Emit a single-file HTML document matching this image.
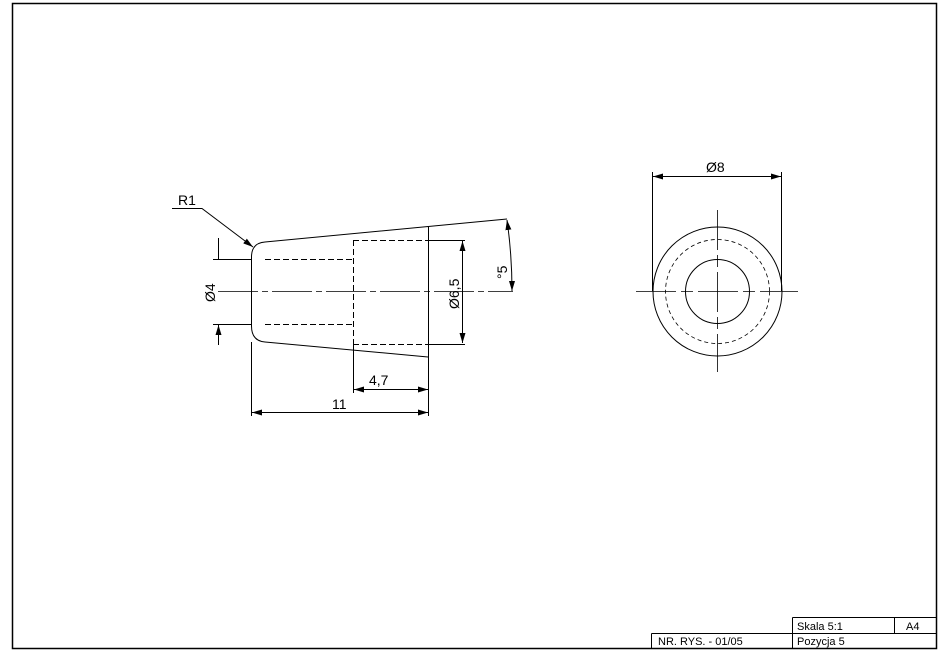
<!DOCTYPE html>
<html><head><style>body{margin:0;background:#fff}svg{display:block}text{font-family:"Liberation Sans",sans-serif;fill:#000}</style></head><body>
<svg width="948" height="659" viewBox="0 0 948 659" xmlns="http://www.w3.org/2000/svg">
<defs><marker id="a" viewBox="0 0 10 6" refX="10" refY="3" markerWidth="10" markerHeight="6" orient="auto-start-reverse" markerUnits="userSpaceOnUse"><path d="M0,0L10,3L0,6z" fill="#000"/></marker></defs>
<g fill="none" stroke="#000" stroke-width="1">
<rect x="12.5" y="3.5" width="924" height="645" stroke-width="1.5"/>
<path d="M792.5,617.5H936.5M792.5,617.5V648M894.5,617.5V633M651.5,633.5H936.5M651.5,633.5V648"/>
<path d="M251.5,257 Q251.5,243 265,242 L507,219 M251.5,257V326 Q251.5,341 265,342 L428,357 M428.5,227V357"/>
<path d="M265,259.5H353 M265,324.5H353 M353.5,240V344 M353,240.5H428 M353,344.5H428" stroke-dasharray="6,3"/>
<path d="M218,291.5H513" stroke-dasharray="40,4,6,4" stroke-width="0.8"/>
<path d="M213,259.5H251 M213,324.5H251"/>
<path d="M218.5,238V259 M218.5,345V325" marker-end="url(#a)"/>
<path d="M428,240.5H465 M428,344.5H465"/>
<path d="M462.5,241V343" marker-start="url(#a)" marker-end="url(#a)"/>
<path d="M353.5,344V393 M251.5,342V416 M428.5,357V416"/>
<path d="M354,389.5H428" marker-start="url(#a)" marker-end="url(#a)"/>
<path d="M252,412.5H428" marker-start="url(#a)" marker-end="url(#a)"/>
<path d="M172,208.5H202 L253,247" marker-end="url(#a)"/>
<path d="M507,220 Q512,255 512,291" marker-start="url(#a)" marker-end="url(#a)"/>
<circle cx="717.5" cy="291.5" r="64.5"/>
<circle cx="717.5" cy="291.5" r="52" stroke-dasharray="4,3" stroke-width="0.8"/>
<circle cx="717.5" cy="291.5" r="32"/>
<path d="M636,291.5H798 M717.5,210V372" stroke-dasharray="40,5,12,5" stroke-width="0.8"/>
<path d="M652.5,172V291 M781.5,172V291"/>
<path d="M653,176.5H781" marker-start="url(#a)" marker-end="url(#a)"/>
</g>
<g font-size="14">
<text x="178" y="205">R1</text>
<text x="369" y="385">4,7</text>
<text x="332" y="409">11</text>
<text x="706" y="172">Ø8</text>
<text transform="translate(215,302) rotate(-90)">Ø4</text>
<text transform="translate(459,309) rotate(-90)">Ø6,5</text>
<text transform="translate(507,279) rotate(-90)">°5</text>
</g>
<g font-size="11">
<text x="797" y="630">Skala 5:1</text>
<text x="906" y="630">A4</text>
<text x="797" y="645">Pozycja 5</text>
<text x="658" y="645">NR. RYS. - 01/05</text>
</g>
</svg>
</body></html>
